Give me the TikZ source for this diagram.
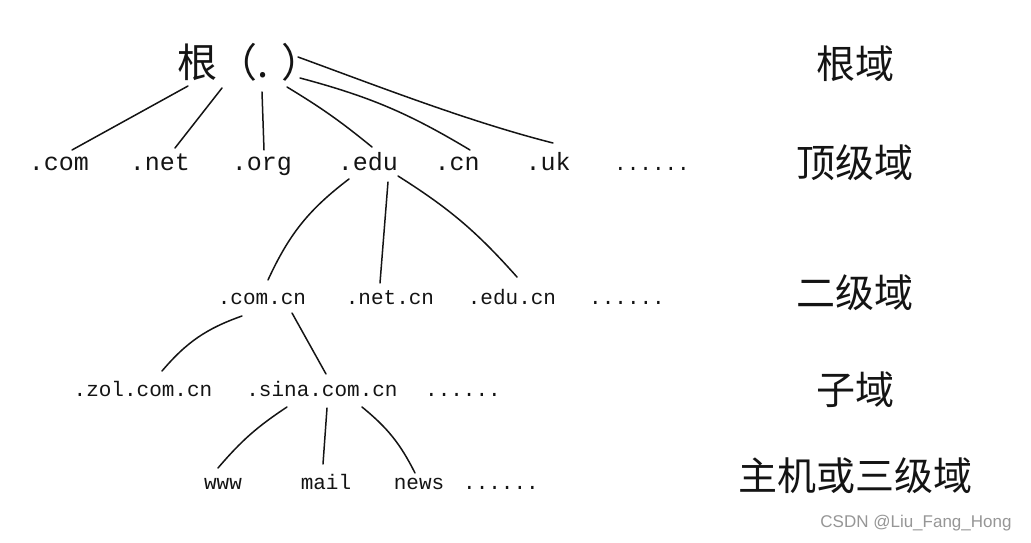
\documentclass[tikz,border=0pt]{standalone}
\usepackage{fontspec}
\usepackage{xcolor}
\usepackage{tikz}
\usetikzlibrary{positioning, calc}
\newfontfamily\cjkfont{Noto Sans CJK SC}
\newfontfamily\domfont{Liberation Mono}
\newfontfamily\markfont{Liberation Sans}
\definecolor{inkdark}{RGB}{20,20,20}
\definecolor{wmgrey}{RGB}{150,150,150}
\tikzset{
  rootlbl/.style={font=\cjkfont\fontsize{40}{40}\selectfont, inner sep=0pt,
    text height=0.88em, text depth=0.12em, color=inkdark},
  levellbl/.style={font=\cjkfont\fontsize{39}{39}\selectfont, inner sep=0pt,
    text height=0.88em, text depth=0.12em, color=inkdark},
  tldnode/.style={font=\domfont\fontsize{25}{25}\selectfont, inner sep=0pt,
    text height=0.75em, text depth=0.2em, color=inkdark},
  domnode/.style={font=\domfont\fontsize{21}{21}\selectfont, inner sep=0pt,
    text height=0.75em, text depth=0.2em, color=inkdark},
  branch/.style={line width=1.5pt, color=inkdark, line cap=round},
  watermark/.style={font=\markfont\fontsize{17}{17}\selectfont, color=wmgrey, inner sep=0pt}
}

\begin{document}
\begin{tikzpicture}[x=1pt, y=1pt]
  \fill[white] (0,0) rectangle (1031,542);
  \useasboundingbox (0,0) rectangle (1031,542);

  % Root
  \node[rootlbl, anchor=west] (root) at (177,468) {根（.\kern13pt）};

  % Top-level domains
  \node[tldnode] (com) at (59,374) {.com};
  \node[tldnode] (net) at (160,374) {.net};
  \node[tldnode] (org) at (262,374) {.org};
  \node[tldnode] (edu) at (368,374) {.edu};
  \node[tldnode] (cn) at (457,374) {.cn};
  \node[tldnode] (uk) at (548,374) {.uk};
  \node[domnode] (more1) at (652,374) {......};

  % Second-level domains
  \node[domnode] (comcn) at (262,240) {.com.cn};
  \node[domnode] (netcn) at (390,240) {.net.cn};
  \node[domnode] (educn) at (512,240) {.edu.cn};
  \node[domnode] (more2) at (627,240) {......};

  % Sub domains
  \node[domnode] (zol) at (143,148) {.zol.com.cn};
  \node[domnode] (sina) at (322,148) {.sina.com.cn};
  \node[domnode] (more3) at (463,148) {......};

  % Hosts
  \node[domnode] (www) at (223,55) {www};
  \node[domnode] (mail) at (326,55) {mail};
  \node[domnode] (news) at (419,55) {news};
  \node[domnode] (more4) at (501,55) {......};

  % Level names
  \node[levellbl] (lvroot) at (855,467) {根域};
  \node[levellbl] (lvtop) at (855,368) {顶级域};
  \node[levellbl] (lvsecond) at (855,238) {二级域};
  \node[levellbl] (lvsub) at (855,141) {子域};
  \node[levellbl] (lvhost) at (855,55) {主机或三级域};

  \node[watermark] (wm) at (916,19) {CSDN @Liu\_Fang\_Hong};

  % Branches from root
  \draw[branch] ([shift={(11,-12)}]root.west) -- ([shift={(13,18)}]com.center);
  \draw[branch] ([shift={(45,-14)}]root.west) -- ([shift={(15,20)}]net.center);
  \draw[branch] ([shift={(85,-18)}]root.west) -- ([shift={(2,18)}]org.center);
  \draw[branch] ([shift={(110,-13)}]root.west) to[bend left=4] ([shift={(4,21)}]edu.center);
  \draw[branch] ([shift={(123,-4)}]root.west) to[bend left=8] ([shift={(13,18)}]cn.center);
  \draw[branch] ([shift={(121,17)}]root.west) .. controls (380,455) and (470,420) .. ([shift={(5,25)}]uk.center);

  % Branches from .edu
  \draw[branch] ([shift={(-19,-11)}]edu.center) to[bend right=14] ([shift={(6,22)}]comcn.center);
  \draw[branch] ([shift={(20,-14)}]edu.center) -- ([shift={(-10,19)}]netcn.center);
  \draw[branch] ([shift={(30,-8)}]edu.center) to[bend left=8] ([shift={(5,25)}]educn.center);

  % Branches from .com.cn
  \draw[branch] ([shift={(-20,-14)}]comcn.center) to[bend right=15] ([shift={(19,23)}]zol.center);
  \draw[branch] ([shift={(30,-11)}]comcn.center) -- ([shift={(4,20)}]sina.center);

  % Branches from .sina.com.cn
  \draw[branch] ([shift={(-35,-13)}]sina.center) to[bend right=8] ([shift={(-5,19)}]www.center);
  \draw[branch] ([shift={(5,-14)}]sina.center) -- ([shift={(-3,23)}]mail.center);
  \draw[branch] ([shift={(40,-13)}]sina.center) to[bend left=12] ([shift={(-4,14)}]news.center);
\end{tikzpicture}
\end{document}
